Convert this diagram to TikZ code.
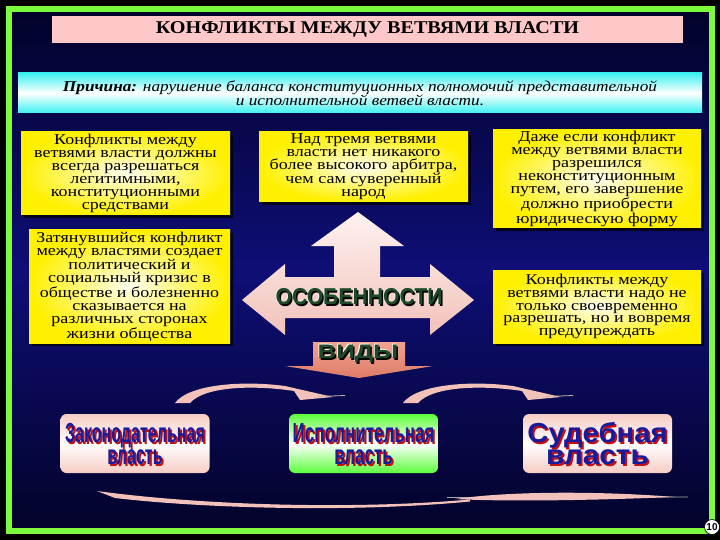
\documentclass[tikz,border=0pt]{standalone}
\usepackage{fontspec}
\usepackage{graphicx}
\setmainfont{Liberation Serif}
\newfontfamily\boxfont{Liberation Serif}[FakeStretch=1.2]
\newfontfamily\causefont{Liberation Serif}[FakeStretch=1.15]
\newfontfamily\titlefont{Liberation Serif}[FakeStretch=1.12]
\newfontfamily\heavyfont{Liberation Sans}
\usetikzlibrary{shadows}
\definecolor{bgtop}{HTML}{02022A}
\definecolor{bgmid}{HTML}{0E0E76}
\definecolor{bgbot}{HTML}{03032A}
\definecolor{framec}{HTML}{7CFC3C}
\definecolor{titlepink}{HTML}{FFC8C8}
\definecolor{cyanish}{HTML}{3CF0F0}
\definecolor{ylw}{HTML}{FFF000}
\definecolor{ylwlight}{HTML}{FFFFF0}
\definecolor{arrowpink}{HTML}{F2C2BA}
\definecolor{arrowlight}{HTML}{FFF2F0}
\definecolor{salmontop}{HTML}{F2A290}
\definecolor{salmonbot}{HTML}{DD7C68}
\definecolor{dkgreen}{HTML}{1F4A2A}
\definecolor{boxpink}{HTML}{F6CCC4}
\definecolor{boxgreen}{HTML}{5CFF3C}
\definecolor{txtblue}{HTML}{1A1A9C}
\definecolor{txtred}{HTML}{C01010}
\tikzset{
  ybox/.style={inner color=ylwlight, outer color=ylw, align=center, inner sep=0pt,
    font=\boxfont\fontsize{15}{12.9}\selectfont,
    drop shadow={shadow xshift=3pt, shadow yshift=-3pt, fill=black, opacity=0.7}},
  bbox/.style={rounded corners=6, minimum width=149, minimum height=59,
    top color=#1, bottom color=#1, middle color=white},
  btxt/.style={align=center, inner sep=0pt, font=\heavyfont\bfseries\fontsize{22}{22}\selectfont},
  htxt/.style={inner sep=0pt, font=\heavyfont\bfseries\fontsize{23}{23}\selectfont},
  arcfill/.style={fill=arrowpink}
}
\begin{document}
\begin{tikzpicture}[x=1pt,y=-1pt]
\useasboundingbox (0,0) rectangle (720,540);
\fill[black] (0,0) rectangle (720,540);
\shade[top color=bgtop, bottom color=bgbot, middle color=bgmid] (8,9) rectangle (712,531);
\draw[framec, line width=6] (8.5,9.5) rectangle (711.5,531);

% title and cause
\node[fill=titlepink, minimum width=631, minimum height=27,
  font=\titlefont\bfseries\fontsize{18}{18}\selectfont] (title) at (367.5,29.5)
  {КОНФЛИКТЫ МЕЖДУ ВЕТВЯМИ ВЛАСТИ};
\node[top color=cyanish, bottom color=cyanish, middle color=white, minimum width=684,
  minimum height=40, align=center, inner sep=0pt,
  font=\causefont\itshape\fontsize{15}{14}\selectfont] (cause) at (360,93)
  {\textbf{Причина:} нарушение баланса конституционных полномочий представительной\\
   и исполнительной ветвей власти.};

% yellow boxes
\node[ybox, minimum width=209, minimum height=83] (b1) at (125.5,173.5)
  {Конфликты между\\ветвями власти должны\\всегда разрешаться\\легитимными,\\конституционными\\средствами};
\node[ybox, minimum width=201, minimum height=113] (b2) at (129.5,286.5)
  {Затянувшийся конфликт\\между властями создает\\политический и\\социальный кризис в\\обществе и болезненно\\сказывается на\\различных сторонах\\жизни общества};
\node[ybox, minimum width=209, minimum height=70] (b3) at (363.5,167)
  {Над тремя ветвями\\власти нет никакого\\более высокого арбитра,\\чем сам суверенный\\народ};
\node[ybox, minimum width=208, minimum height=98] (b4) at (597,179)
  {Даже если конфликт\\между ветвями власти\\разрешился\\неконституционным\\путем, его завершение\\должно приобрести\\юридическую форму};
\node[ybox, minimum width=208, minimum height=73] (b5) at (597,306.5)
  {Конфликты между\\ветвями власти надо не\\только своевременно\\разрешать, но и вовремя\\предупреждать};

% big arrow
\shade[top color=arrowlight, bottom color=arrowpink]
  (358,212) -- (404,246) -- (380,246) -- (380,277) -- (430,277) -- (430,264) -- (474,300)
  -- (430,335) -- (430,318) -- (285,318) -- (285,335) -- (242,300) -- (285,264)
  -- (285,277) -- (334,277) -- (334,246) -- (311,246) -- cycle;
\node[htxt, text=white] at (358.2,296.2) {\scalebox{0.92}[1]{ОСОБЕННОСТИ}};
\node[htxt, text=black] at (360.6,298.6) {\scalebox{0.92}[1]{ОСОБЕННОСТИ}};
\node[htxt, text=dkgreen] (osob) at (359,297) {\scalebox{0.92}[1]{ОСОБЕННОСТИ}};

% vidy
\shade[top color=salmontop, bottom color=salmonbot]
  (313,342) -- (405,342) -- (405,366) -- (433,366) -- (359,378) -- (285,366) -- (313,366) -- cycle;
\node[htxt, text=white] at (357.2,353.2) {\scalebox{1.12}[0.85]{ВИДЫ}};
\node[htxt, text=black] at (359.5,355.5) {\scalebox{1.12}[0.85]{ВИДЫ}};
\node[htxt, text=dkgreen] (vidy) at (358,354) {\scalebox{1.12}[0.85]{ВИДЫ}};

% curved arrows
\fill[arcfill] (175,403) .. controls (188,385) and (240,380) .. (285,386) -- (333,397)
  -- (300,400) -- (294,391) .. controls (255,385) and (205,386) .. (190,403) -- cycle;
\draw[arrowpink!70!gray, line width=0.8] (318,396.5) -- (345,395.5);
\fill[arcfill] (403,403) .. controls (416,385) and (468,380) .. (513,386) -- (561,397)
  -- (528,400) -- (522,391) .. controls (483,385) and (433,386) .. (418,403) -- cycle;
\draw[arrowpink!70!gray, line width=0.8] (546,396.5) -- (573,395.5);
\fill[arcfill] (97,491) .. controls (200,505) and (350,510) .. (470,499.5)
  -- (470,501.5) .. controls (350,513) and (200,508) .. (115,498) -- cycle;
\draw[gray!70, line width=0.8] (447,497.5) -- (688,497);
\fill[arcfill] (455,499) .. controls (510,491) and (600,491) .. (675,497)
  .. controls (600,500) and (510,502) .. (455,499) -- cycle;

% bottom boxes
\node[bbox=boxpink] (leg) at (135,443.5) {};
\node[bbox=boxgreen] (exe) at (363.5,443.5) {};
\node[bbox=boxpink] (jud) at (597.5,443.5) {};

\node[btxt, text=txtred] at (136.8,446) {\scalebox{0.73}[1.25]{Законодательная}\\\scalebox{0.73}[1.25]{власть}};
\node[btxt, text=txtblue] (legt) at (135,444) {\scalebox{0.73}[1.25]{Законодательная}\\\scalebox{0.73}[1.25]{власть}};

\node[btxt, text=txtred] at (365.3,446) {\scalebox{0.77}[1.25]{Исполнительная}\\\scalebox{0.77}[1.25]{власть}};
\node[btxt, text=txtblue] (exet) at (363.5,444) {\scalebox{0.77}[1.25]{Исполнительная}\\\scalebox{0.77}[1.25]{власть}};

\node[btxt, text=txtred] at (599.3,446) {\scalebox{1.33}[1.25]{Судебная}\\\scalebox{1.35}[1.25]{власть}};
\node[btxt, text=txtblue] (judt) at (597.5,444) {\scalebox{1.33}[1.25]{Судебная}\\\scalebox{1.35}[1.25]{власть}};

% page number
\node[circle, fill=white, draw=black, line width=0.6, inner sep=0.5, minimum size=15,
  font=\heavyfont\bfseries\fontsize{10}{10}\selectfont] (pg) at (712,527) {10};
\end{tikzpicture}
\end{document}
